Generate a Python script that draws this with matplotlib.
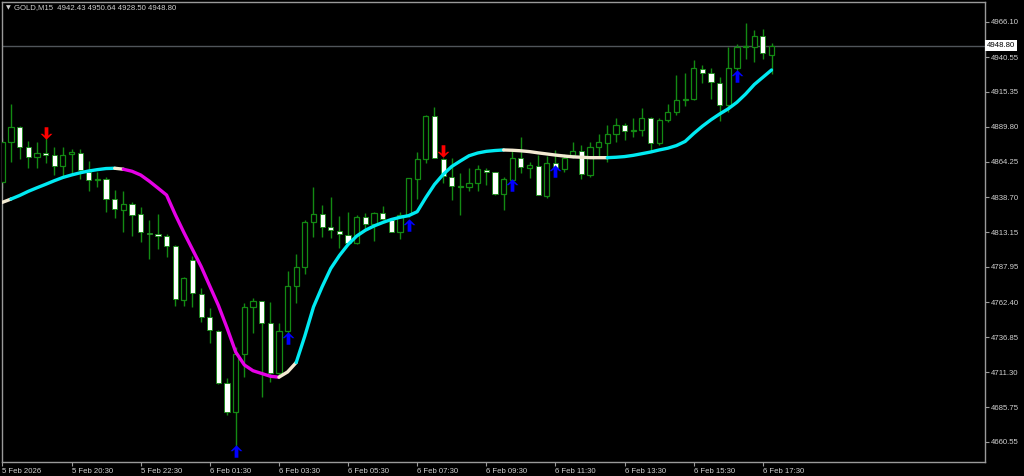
import matplotlib
matplotlib.use('Agg')
import matplotlib.pyplot as plt
import matplotlib.transforms as mtransforms
from matplotlib.path import Path
import numpy as np

# ---- data (GOLD M15, 5 Feb 18:30 .. 6 Feb 17:45) ----
opens = [4849.9, 4878.6, 4889.5, 4875.4, 4867.7, 4870.6, 4869.1, 4861.3, 4869.9, 4870.6,
         4857.2, 4851.0, 4851.7, 4837.1, 4829.3, 4833.5, 4826.2, 4812.8, 4811.7, 4810.6,
         4803.1, 4763.9, 4793.0, 4768.2, 4751.7, 4741.5, 4703.3, 4682.2, 4724.3, 4758.5,
         4762.9, 4746.9, 4711.1, 4741.3, 4774.0, 4788.1, 4820.4, 4826.2, 4816.7, 4814.3,
         4811.4, 4805.1, 4824.4, 4819.1, 4826.9, 4822.1, 4813.5, 4825.7, 4852.1, 4866.2,
         4897.9, 4866.6, 4853.6, 4846.3, 4846.3, 4849.2, 4858.6, 4856.8, 4841.0, 4851.5,
         4867.4, 4859.7, 4861.3, 4839.7, 4863.5, 4858.9, 4869.3, 4872.2, 4854.8, 4875.4,
         4878.3, 4884.6, 4891.2, 4886.8, 4887.5, 4896.0, 4877.9, 4894.8, 4900.4, 4909.4,
         4909.9, 4931.9, 4928.8, 4921.9, 4905.7, 4932.9, 4947.7, 4948.1, 4956.1, 4942.43]
highs = [4881.7, 4906.4, 4890.4, 4879.7, 4878.6, 4883.9, 4875.4, 4875.4, 4873.5, 4873.7,
         4865.2, 4857.2, 4853.6, 4843.9, 4843.1, 4835.4, 4831.7, 4822.1, 4826.4, 4811.7,
         4803.9, 4780.8, 4795.9, 4772.8, 4757.8, 4742.0, 4706.9, 4729.9, 4761.4, 4765.1,
         4763.3, 4762.2, 4746.9, 4785.0, 4797.3, 4822.1, 4846.3, 4833.0, 4839.0, 4825.0,
         4828.1, 4825.7, 4827.4, 4828.1, 4832.2, 4823.5, 4828.1, 4852.6, 4871.7, 4898.4,
         4904.0, 4866.9, 4866.9, 4856.5, 4859.7, 4862.1, 4859.7, 4857.3, 4853.6, 4873.0,
         4882.2, 4864.5, 4869.3, 4868.8, 4873.0, 4869.9, 4878.6, 4876.6, 4878.6, 4884.4,
         4891.2, 4896.0, 4892.4, 4896.0, 4903.3, 4897.2, 4896.0, 4906.2, 4927.5, 4928.8,
         4938.5, 4934.8, 4932.9, 4926.3, 4947.7, 4950.1, 4965.2, 4960.3, 4961.0, 4950.64]
lows = [4845.3, 4864.5, 4866.2, 4859.7, 4859.7, 4863.7, 4854.8, 4853.6, 4854.8, 4851.7,
        4843.4, 4846.3, 4828.1, 4823.7, 4813.5, 4810.6, 4806.3, 4793.5, 4801.0, 4795.4,
        4759.7, 4759.7, 4759.0, 4748.1, 4732.8, 4702.5, 4680.2, 4656.9, 4708.0, 4739.6,
        4693.1, 4704.4, 4708.0, 4739.6, 4761.4, 4782.8, 4809.5, 4809.9, 4808.7, 4801.5,
        4804.6, 4804.6, 4814.8, 4807.0, 4822.1, 4813.3, 4808.0, 4824.2, 4837.1, 4863.3,
        4866.9, 4848.8, 4836.6, 4825.7, 4843.4, 4843.4, 4847.5, 4840.2, 4829.3, 4851.2,
        4856.0, 4852.4, 4840.2, 4838.3, 4857.2, 4857.2, 4866.9, 4851.9, 4853.6, 4868.1,
        4864.5, 4879.0, 4880.3, 4882.7, 4883.4, 4871.7, 4876.6, 4893.6, 4898.4, 4905.2,
        4909.4, 4921.5, 4910.1, 4894.1, 4900.8, 4931.2, 4939.2, 4937.2, 4939.2, 4928.50]
closes = [4879.0, 4889.5, 4875.4, 4867.7, 4870.6, 4869.1, 4861.3, 4869.6, 4871.3, 4858.2,
          4851.2, 4851.9, 4837.1, 4829.8, 4833.5, 4825.7, 4813.1, 4811.7, 4810.4, 4803.1,
          4764.4, 4779.6, 4768.7, 4751.7, 4742.0, 4703.7, 4682.2, 4724.6, 4758.5, 4762.9,
          4746.9, 4711.1, 4741.3, 4774.0, 4787.5, 4820.4, 4826.2, 4817.2, 4814.8, 4811.7,
          4805.1, 4824.0, 4819.1, 4826.9, 4822.6, 4813.5, 4825.7, 4852.4, 4866.2, 4897.9,
          4866.9, 4854.1, 4846.8, 4846.8, 4849.2, 4858.9, 4856.8, 4841.0, 4851.7, 4867.5,
          4860.6, 4862.1, 4840.2, 4863.7, 4859.7, 4866.9, 4872.2, 4855.3, 4875.4, 4878.6,
          4884.4, 4891.2, 4887.0, 4887.5, 4896.0, 4877.9, 4894.8, 4900.4, 4909.4, 4909.9,
          4932.4, 4929.2, 4922.2, 4905.7, 4932.4, 4947.7, 4948.6, 4956.1, 4943.3, 4948.80]

# smoothed trend line, one value per bar
ma = [4834.9, 4837.3, 4839.9, 4842.9, 4845.5, 4848.0, 4850.6, 4853.0, 4854.8, 4856.4,
      4857.7, 4858.7, 4859.5, 4859.7, 4859.0, 4857.5, 4854.8, 4850.3, 4845.3, 4840.2,
      4826.1, 4813.0, 4800.6, 4788.2, 4774.0, 4759.9, 4743.5, 4726.0, 4716.6, 4712.4,
      4710.4, 4708.4, 4707.7, 4711.5, 4718.4, 4737.7, 4758.8, 4773.5, 4786.8, 4796.2,
      4804.2, 4810.4, 4814.6, 4817.7, 4820.2, 4822.4, 4824.0, 4825.2, 4828.1, 4838.4,
      4847.9, 4855.2, 4861.0, 4865.0, 4868.8, 4870.8, 4872.0, 4872.6, 4873.0, 4872.8,
      4872.4, 4871.8, 4870.9, 4870.1, 4869.3, 4868.6, 4868.0, 4867.7, 4867.4, 4867.4,
      4867.4, 4867.7, 4868.2, 4869.1, 4870.3, 4871.5, 4873.0, 4874.3, 4876.2, 4879.2,
      4885.0, 4890.3, 4895.0, 4899.2, 4903.0, 4907.7, 4913.7, 4920.6, 4925.9, 4931.2]
# (first bar, last bar, state) for each coloured stretch of the line
ma_runs = [(0, 1, 'flat'), (1, 13, 'up'), (13, 14, 'flat'), (14, 32, 'down'),
           (32, 34, 'flat'), (34, 58, 'up'), (58, 70, 'flat'), (70, 89, 'up')]

buy_bars = [27, 33, 47, 59, 64, 85]
buy_prices = [4654.0, 4736.2, 4818.4, 4847.5, 4857.7, 4926.8]
sell_bars = [5, 51]
sell_prices = [4885.7, 4872.3]

x_tick_bars = [0, 8, 16, 24, 32, 40, 48, 56, 64, 72, 80, 88]
x_tick_labels = ['5 Feb 2026', '5 Feb 20:30', '5 Feb 22:30', '6 Feb 01:30', '6 Feb 03:30',
                 '6 Feb 05:30', '6 Feb 07:30', '6 Feb 09:30', '6 Feb 11:30', '6 Feb 13:30',
                 '6 Feb 15:30', '6 Feb 17:30']
y_ticks = [4966.10, 4940.55, 4915.35, 4889.80, 4864.25, 4838.70, 4813.15, 4787.95,
           4762.40, 4736.85, 4711.30, 4685.75, 4660.55]
last_price = 4948.80
title = 'GOLD,M15  4942.43 4950.64 4928.50 4948.80'

# ---- style ----
BG = 'black'
FRAME = '#9a9a9a'
TXT = '#d0d0d0'
GREEN = '#138a13'
state_colors = {'up': '#00eaf2', 'down': '#e600e6', 'flat': '#f3ead2'}
FONT = 'Liberation Sans'

# block arrow marker (points up), flipped for sell signals
up_verts = [(0, 1), (-0.95, 0.05), (-0.6, 0.05), (-0.3, 0.35), (-0.3, -1), (0.3, -1),
            (0.3, 0.35), (0.6, 0.05), (0.95, 0.05), (0, 1)]
up_arrow = Path(up_verts, closed=True)
down_arrow = Path([(vx, -vy) for vx, vy in up_verts], closed=True)

fig = plt.figure(figsize=(10.24, 4.76), dpi=100, facecolor=BG)
ax = fig.add_axes([1.5 / 1024, 14 / 476, 983.5 / 1024, 460 / 476], facecolor=BG)

n = len(closes)
x = np.arange(n)
o = np.array(opens); h = np.array(highs); l = np.array(lows); c = np.array(closes)
bull = c >= o

# wicks
ax.vlines(x, l, h, color=GREEN, lw=1.0, zorder=2)
# bodies
w = 0.6
body_lo = np.minimum(o, c)
body_h = np.abs(c - o)
ax.bar(x[bull], body_h[bull], w, bottom=body_lo[bull], facecolor='black',
       edgecolor=GREEN, lw=0.9, zorder=3)
ax.bar(x[~bull], body_h[~bull], w, bottom=body_lo[~bull], facecolor='white',
       edgecolor=GREEN, lw=0.6, zorder=3)

# trend line
ma_arr = np.array(ma)
for s, e, st in ma_runs:
    ax.plot(x[s:e + 1], ma_arr[s:e + 1], color=state_colors[st], lw=2.4,
            solid_capstyle='round', zorder=5)

# signal arrows
ax.plot(buy_bars, buy_prices, ls='none', marker=up_arrow, markersize=9,
        color='#0000ff', markeredgewidth=0, zorder=6)
ax.plot(sell_bars, sell_prices, ls='none', marker=down_arrow, markersize=9,
        color='#ff0000', markeredgewidth=0, zorder=6)

# current price line
ax.axhline(last_price, color='#50555a', lw=1.0, zorder=1)

ax.set_xlim(-0.1, 113.7)
ax.set_ylim(4646.0, 4980.65)

for sp in ax.spines.values():
    sp.set_color(FRAME)
    sp.set_linewidth(1.0)

ax.yaxis.tick_right()
ax.set_yticks(y_ticks)
ax.set_yticklabels(['%.2f' % v for v in y_ticks], fontsize=5.6, color=TXT, family=FONT)
ax.tick_params(axis='y', length=3, width=0.8, color=FRAME, pad=1.5)

ax.set_xticks(x_tick_bars)
ax.set_xticklabels(x_tick_labels, fontsize=5.6, color=TXT, family=FONT, ha='left')
ax.tick_params(axis='x', length=3, width=0.8, color=FRAME, pad=1)

# price box on the right scale
trans = mtransforms.blended_transform_factory(ax.transAxes, ax.transData)
ax.text(1.0015, last_price, '%.2f' % last_price, transform=trans, fontsize=5.6,
        family=FONT, color='black', ha='left', va='center', zorder=10, clip_on=False,
        bbox=dict(boxstyle='square,pad=0.25', fc='white', ec='none'))

# header text
ax.text(4 / 983.5, 1 - 6 / 460, '\u25bc', transform=ax.transAxes, fontsize=4.5,
        color=TXT, family='DejaVu Sans', ha='left', va='center')
ax.text(12 / 983.5, 1 - 6 / 460, title, transform=ax.transAxes, fontsize=5.6,
        color=TXT, family=FONT, ha='left', va='center')

fig.savefig('out.png', dpi=100, facecolor=BG)
